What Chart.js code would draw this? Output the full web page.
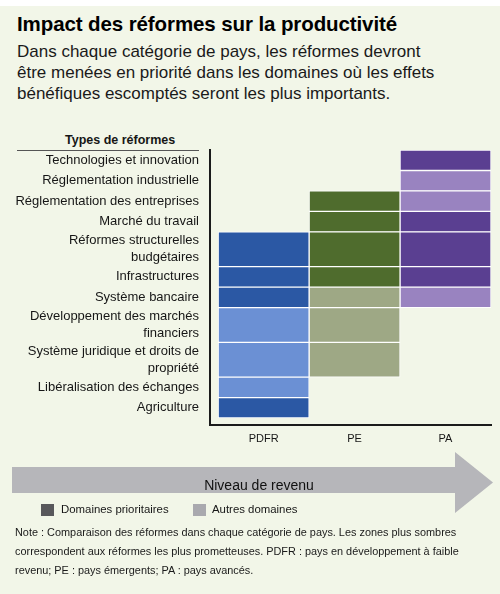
<!DOCTYPE html>
<html lang="fr">
<head>
<meta charset="utf-8">
<script src="https://cdn.jsdelivr.net/npm/chart.js@4.4.1/dist/chart.umd.min.js"></script>
<style>
  body { margin: 0; background: #fff; font-family: "Liberation Sans", Arial, sans-serif; color: #161616; }
  #page { position: relative; width: 500px; height: 594px; overflow: hidden; }
  #bg { position: absolute; top: 6px; left: 0; right: 0; bottom: 0; background: #f2f6e8; }
  .abs { position: absolute; white-space: nowrap; }
  #title { left: 17px; top: 12px; font-size: 20.5px; font-weight: bold; line-height: 24px; color: #000; letter-spacing: -0.1px; }
  #subtitle { left: 17px; top: 41px; font-size: 17px; line-height: 21px; color: #1a1a1a; }
  #ytitle { left: 65px; top: 132px; font-size: 12.5px; font-weight: bold; line-height: 16px; }
  #yrule { left: 17px; top: 150px; width: 182px; height: 1px; background: #555; }
  #chart { position: absolute; top: 125px; left: 0; }
  #arrow { left: 12px; top: 452px; width: 481px; height: 61px; background: #b6b6ba;
    clip-path: polygon(0 15px, 443px 15px, 443px 0, 481px 30.5px, 443px 61px, 443px 41px, 0 41px); }
  #arrowText { left: 159px; top: 476px; width: 200px; text-align: center; font-size: 14px; line-height: 18px; color: #111; }
  .swatch { width: 13px; height: 12px; top: 504px; }
  .legtext { top: 502px; font-size: 11.4px; line-height: 15px; }
  #note { left: 15px; top: 523px; font-size: 10.9px; line-height: 19px; color: #1a1a1a; }
</style>
</head>
<body>
<div id="page">
  <div id="bg"></div>
  <div id="title" class="abs">Impact des réformes sur la productivité</div>
  <div id="subtitle" class="abs">Dans chaque catégorie de pays, les réformes devront<br>être menées en priorité dans les domaines où les effets<br>bénéfiques escomptés seront les plus importants.</div>
  <div id="ytitle" class="abs">Types de réformes</div>
  <div id="yrule" class="abs"></div>
  <canvas id="chart" width="500" height="330"></canvas>
  <div id="arrow" class="abs"></div>
  <div id="arrowText" class="abs">Niveau de revenu</div>
  <div class="abs swatch" style="left:41px;background:#58585b"></div>
  <div class="abs legtext" style="left:61px">Domaines prioritaires</div>
  <div class="abs swatch" style="left:193px;background:#a9a9ae"></div>
  <div class="abs legtext" style="left:212px">Autres domaines</div>
  <div id="note" class="abs">Note : Comparaison des réformes dans chaque catégorie de pays. Les zones plus sombres<br>correspondent aux réformes les plus prometteuses. PDFR : pays en développement à faible<br>revenu; PE : pays émergents; PA : pays avancés.</div>
</div>
<script>
const columns = ['PDFR', 'PE', 'PA'];
const reforms = [
  'Technologies et innovation',
  'Réglementation industrielle',
  'Réglementation des entreprises',
  'Marché du travail',
  'Réformes structurelles\nbudgétaires',
  'Infrastructures',
  'Système bancaire',
  'Développement des marchés\nfinanciers',
  'Système juridique et droits de\npropriété',
  'Libéralisation des échanges',
  'Agriculture'
];
// relative row heights (two-line labels get taller rows)
const rowSizes = [1, 1, 1, 1, 1.7, 1, 1, 1.7, 1.7, 1, 1];
// 2 = domaine prioritaire, 1 = autre domaine, 0 = rien
const pdfrLevels = [0, 0, 0, 0, 2, 2, 2, 1, 1, 1, 2];
const peLevels   = [0, 0, 2, 2, 2, 2, 1, 1, 1, 0, 0];
const paLevels   = [2, 1, 1, 2, 2, 2, 1, 0, 0, 0, 0];

const palette = {
  PDFR: { 2: '#2b58a4', 1: '#6b90d4' },
  PE:   { 2: '#4f6c2d', 1: '#9ea885' },
  PA:   { 2: '#5a3f91', 1: '#9983c0' }
};

const rowStarts = [];
let total = 0;
rowSizes.forEach(s => { rowStarts.push(total); total += s; });

function columnDataset(levels, col) {
  const data = [];
  const colors = [];
  levels.forEach((lv, i) => {
    if (!lv) return;
    data.push({ x: col + 0.5, y: [rowStarts[i], rowStarts[i] + rowSizes[i]] });
    colors.push(palette[columns[col]][lv]);
  });
  return {
    label: columns[col],
    data,
    backgroundColor: colors,
    borderColor: '#ffffff',
    borderWidth: 1,
    borderSkipped: false,
    grouped: false,
    barPercentage: 1,
    categoryPercentage: 1
  };
}

Chart.defaults.font.family = '"Liberation Sans", Arial, sans-serif';
Chart.defaults.color = '#161616';

new Chart(document.getElementById('chart'), {
  type: 'bar',
  data: {
    datasets: [
      columnDataset(pdfrLevels, 0),
      columnDataset(peLevels, 1),
      columnDataset(paLevels, 2)
    ]
  },
  options: {
    responsive: false,
    animation: false,
    layout: { padding: { top: 25, right: 9, left: 0, bottom: 0 } },
    plugins: { legend: { display: false }, tooltip: { enabled: false } },
    scales: {
      x: {
        type: 'linear',
        offset: false,
        min: -0.09,
        max: 3,
        grid: { display: false, drawTicks: false },
        border: { color: '#1b1b1b', width: 2 },
        afterBuildTicks: scale => { scale.ticks = columns.map((c, i) => ({ value: i + 0.5 })); },
        afterFit: scale => { scale.height = 30; },
        ticks: {
          autoSkip: false,
          maxRotation: 0,
          padding: 7,
          font: { size: 11 },
          callback: (v, i) => columns[i]
        }
      },
      y: {
        type: 'linear',
        reverse: true,
        min: 0,
        max: total + 0.34,
        grid: { display: false, drawTicks: false },
        border: { color: '#1b1b1b', width: 2 },
        afterBuildTicks: scale => {
          scale.ticks = rowStarts.map((s, i) => ({ value: s + rowSizes[i] / 2 }));
        },
        afterFit: scale => { scale.width = 210; },
        ticks: {
          autoSkip: false,
          padding: 11,
          font: { size: 13, lineHeight: 1.3 },
          callback: (v, i) => reforms[i].split('\n')
        }
      }
    }
  }
});
</script>
</body>
</html>
